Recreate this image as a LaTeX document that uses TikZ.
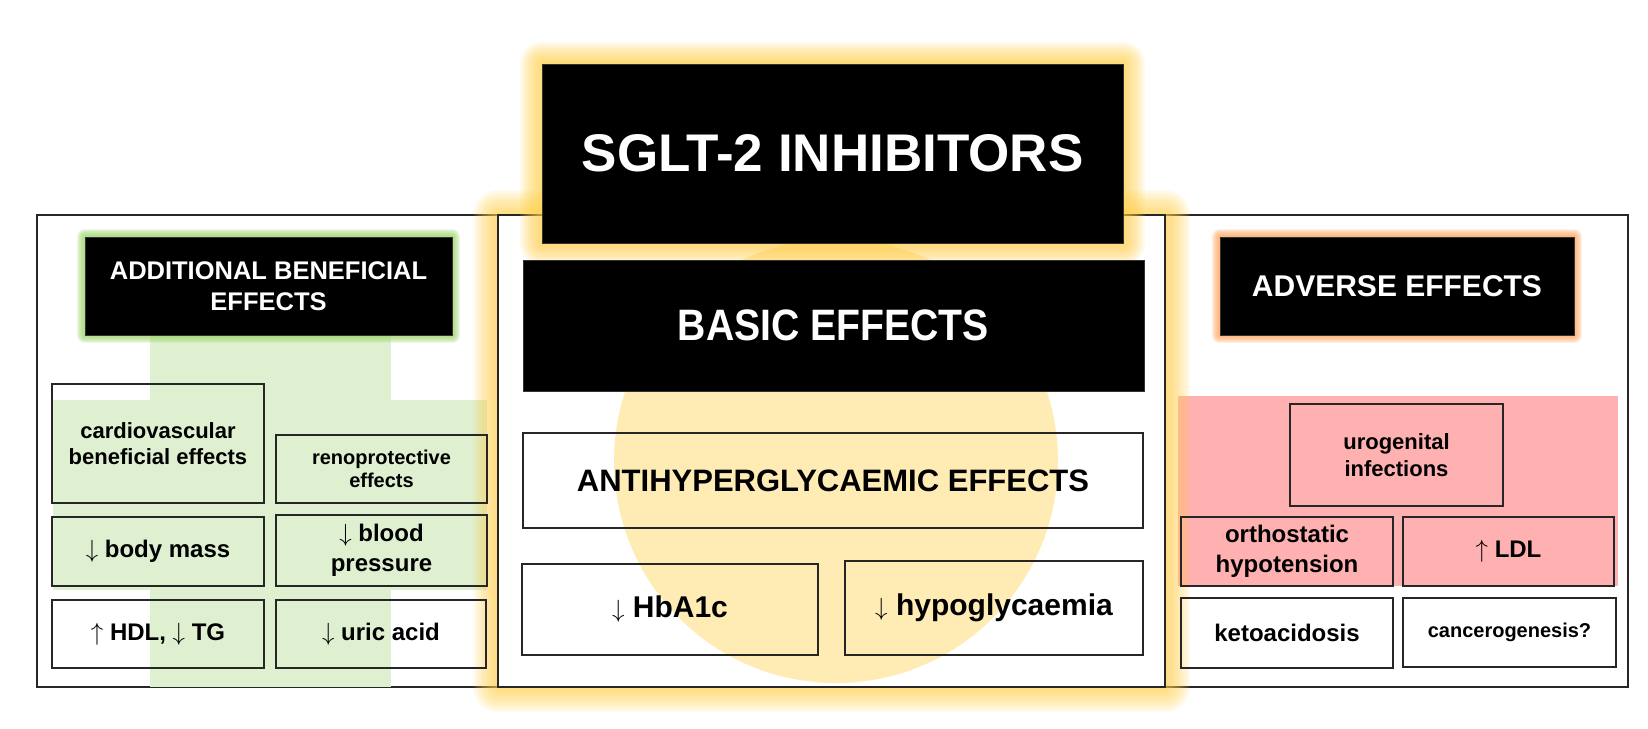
\documentclass[tikz,border=0pt]{standalone}
\usepackage{fontspec}
\setmainfont{Liberation Sans}

\definecolor{glowyel}{RGB}{255,206,70}
\definecolor{sunyel}{RGB}{255,236,180}
\definecolor{leafgrn}{RGB}{223,240,209}
\definecolor{glowgrn}{RGB}{160,215,110}
\definecolor{rosepink}{RGB}{255,176,176}
\definecolor{glowora}{RGB}{255,170,100}

\newcommand{\arrdown}{$\downarrow$}
\newcommand{\arrup}{$\uparrow$}

\begin{document}
\begin{tikzpicture}[
    x=1pt, y=-1pt,
    panel/.style={draw=black!85, line width=1.4pt, fill=white},
    header/.style={fill=black, draw=black!80, text=white, inner sep=0pt, align=center},
    effect/.style={draw=black!85, line width=1.4pt, inner sep=0pt, align=center, font=\fontsize{24}{30}\selectfont\bfseries},
    wh/.style 2 args={minimum width=#1pt, minimum height=#2pt}
]
    \useasboundingbox (0,0) rectangle (1648,728);

    \draw[panel] (37,215) rectangle (498,687);
    \draw[panel] (1165,215) rectangle (1628,687);

    \fill[leafgrn] (150,335) rectangle (391,687);
    \fill[leafgrn] (53,400) rectangle (487,590);
    \fill[rosepink] (1178,396) rectangle (1618,586);

    \foreach \w in {2,4,...,16}
        \draw[glowgrn, line width=\w pt, opacity=0.18, line join=round] (85,237) rectangle (452,335);
    \foreach \w in {2,4,...,16}
        \draw[glowora, line width=\w pt, opacity=0.18, line join=round] (1220,237) rectangle (1574,335);

    \foreach \w in {5,10,...,50}
        \draw[glowyel, line width=\w pt, opacity=0.1, line join=round] (498,215) rectangle (1165,687);
    \draw[panel] (498,215) rectangle (1165,687);
    \fill[sunyel] (836,461) circle (222);

    \foreach \w in {4,8,...,44}
        \draw[glowyel, line width=\w pt, opacity=0.1, line join=round] (542,64) rectangle (1123,243);

    \node (sglt) [header, wh={581}{179}, font=\fontsize{53}{60}\selectfont\bfseries] at (832.5,153.5) {SGLT-2 INHIBITORS};
    \node (basic) [header, wh={621}{131}, font=\fontsize{44}{50}\selectfont\bfseries] at (833.5,325.5) {\scalebox{0.89}[1]{BASIC EFFECTS}};
    \node (anti) [effect, wh={620}{95}, font=\fontsize{31}{36}\selectfont\bfseries] at (833,480.5) {ANTIHYPERGLYCAEMIC EFFECTS};
    \node (hba) [effect, wh={296}{91}, font=\fontsize{30}{36}\selectfont\bfseries] at (670,609.5) {\arrdown{} HbA1c};
    \node (hypo) [effect, wh={298}{94}, font=\fontsize{30}{36}\selectfont\bfseries] at (994,608) {\arrdown{} hypoglycaemia};

    \node (addhead) [header, wh={367}{98}, font=\fontsize{25.5}{31}\selectfont\bfseries] at (268.5,286) {ADDITIONAL BENEFICIAL\\EFFECTS};
    \node (cardio) [effect, wh={212}{119}, font=\fontsize{22}{26}\selectfont\bfseries] at (158,443.5) {cardiovascular\\beneficial effects};
    \node (reno) [effect, wh={211}{68}, font=\fontsize{20}{23}\selectfont\bfseries] at (381.5,469) {renoprotective\\effects};
    \node (mass) [effect, wh={212}{69}] at (158,551.5) {\arrdown{} body mass};
    \node (bp) [effect, wh={211}{71}] at (381.5,550.5) {\arrdown{} blood\\pressure};
    \node (hdl) [effect, wh={212}{68}] at (158,634) {\arrup{} HDL, \arrdown{} TG};
    \node (uric) [effect, wh={210}{68}] at (381,634) {\arrdown{} uric acid};

    \node (advhead) [header, wh={354}{98}, font=\fontsize{30}{36}\selectfont\bfseries] at (1397,286) {ADVERSE EFFECTS};
    \node (uro) [effect, wh={213}{102}, font=\fontsize{22}{27}\selectfont\bfseries] at (1396.5,455) {urogenital\\infections};
    \node (ortho) [effect, wh={212}{69}] at (1287,551.5) {orthostatic\\hypotension};
    \node (ldl) [effect, wh={211}{69}] at (1508.5,551.5) {\arrup{} LDL};
    \node (keto) [effect, wh={212}{70}] at (1287,633) {ketoacidosis};
    \node (cancer) [effect, wh={213}{69}, font=\fontsize{20}{24}\selectfont\bfseries] at (1509.5,632.5) {cancerogenesis?};
\end{tikzpicture}
\end{document}
